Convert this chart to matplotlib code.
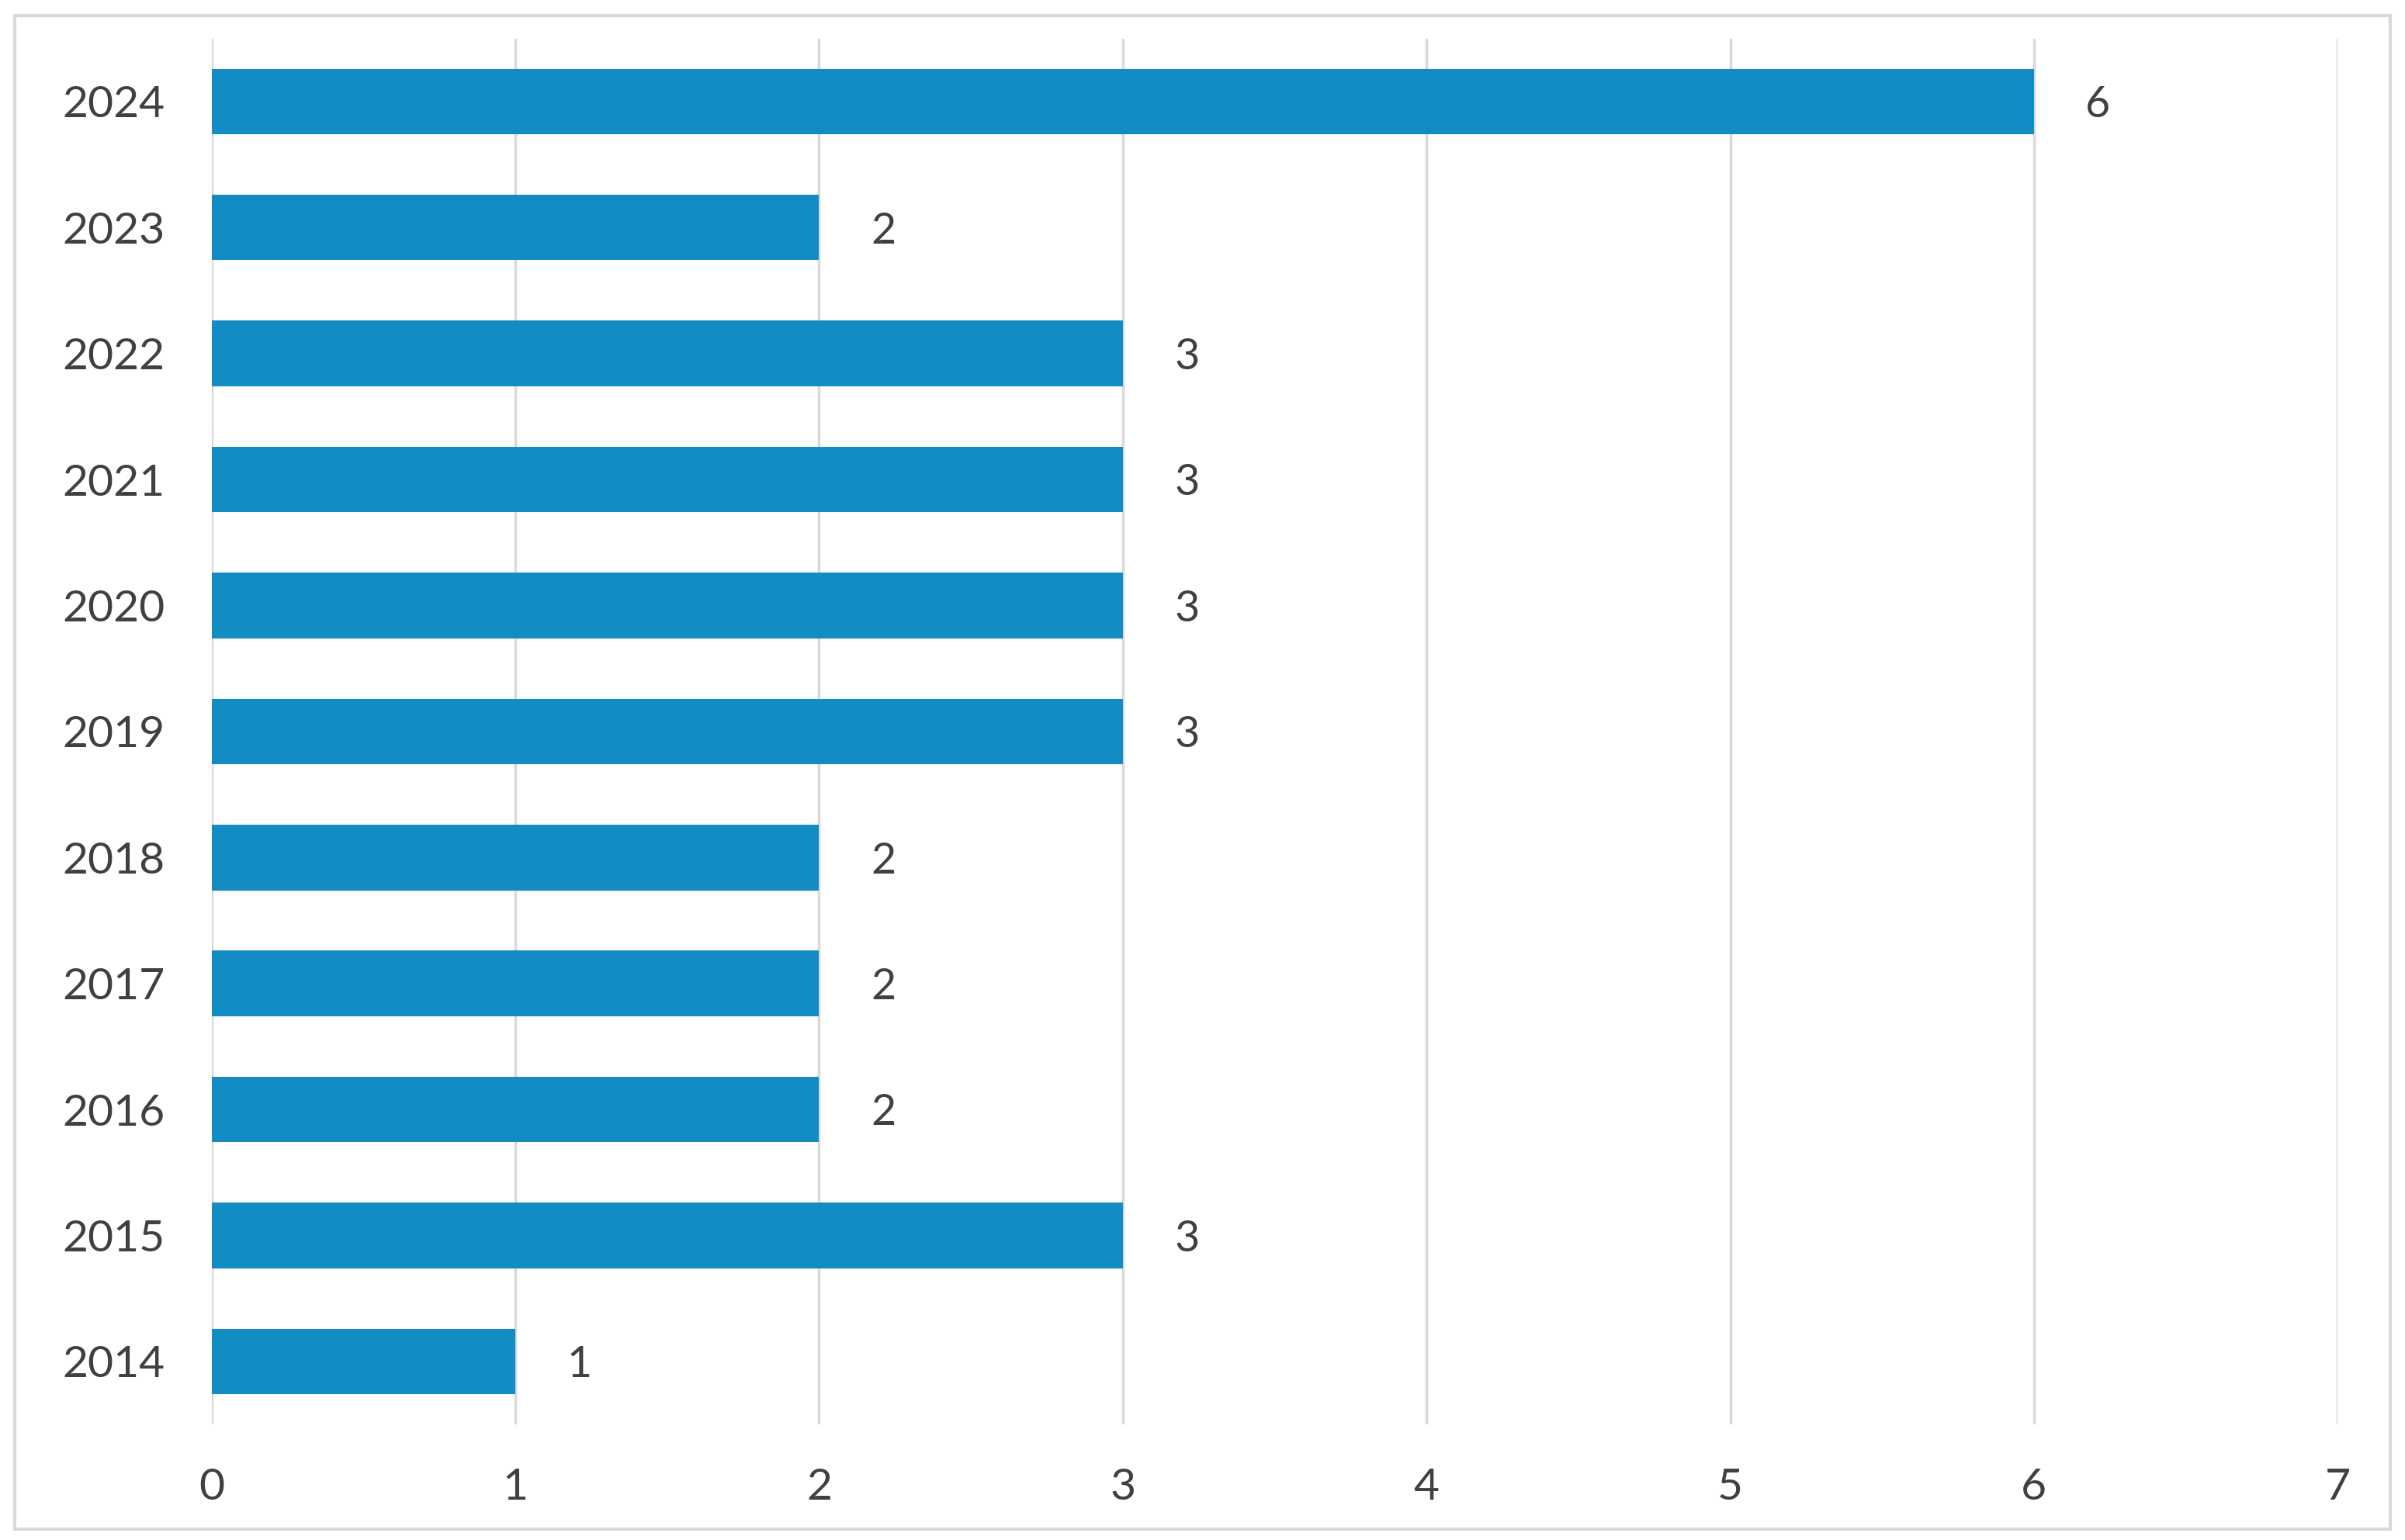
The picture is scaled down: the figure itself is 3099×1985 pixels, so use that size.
import matplotlib.pyplot as plt
from matplotlib.patches import Rectangle

# data
years = ['2014', '2015', '2016', '2017', '2018', '2019', '2020', '2021', '2022', '2023', '2024']
counts = [1, 3, 2, 2, 2, 3, 3, 3, 3, 2, 6]
x_ticks = [0, 1, 2, 3, 4, 5, 6, 7]

bar_color = '#128CC2'
text_color = '#404040'
grid_color = '#D9D9D9'

plt.rcParams['font.family'] = ['Lato', 'DejaVu Sans']

fig = plt.figure(figsize=(30.99, 19.85), dpi=100)
ax = fig.add_axes([0.088, 0.075, 0.884, 0.90])

pos = list(range(len(years)))
ax.barh(pos, counts, height=0.52, color=bar_color, zorder=3)

for p, v in zip(pos, counts):
    ax.text(v + 0.17, p - 0.03, str(v), va='center', ha='left', fontsize=40, color=text_color)

ax.set_xlim(0, 7)
ax.set_ylim(-0.5, len(years) - 0.5)
ax.set_xticks(x_ticks)
ax.set_xticklabels([str(t) for t in x_ticks])
ax.set_yticks(pos)
ax.set_yticklabels(years)
ax.tick_params(axis='both', length=0, labelsize=41, labelcolor=text_color)
ax.tick_params(axis='x', pad=40)
ax.tick_params(axis='y', pad=43)

ax.xaxis.grid(True, color=grid_color, linewidth=2.5, zorder=0)
ax.set_axisbelow(True)
for s in ax.spines.values():
    s.set_visible(False)

# chart border
fig.patches.append(Rectangle((0.006, 0.007), 0.988, 0.983, transform=fig.transFigure,
                             fill=False, edgecolor=grid_color, linewidth=3))

fig.savefig('out.png', dpi=100, facecolor='white')
